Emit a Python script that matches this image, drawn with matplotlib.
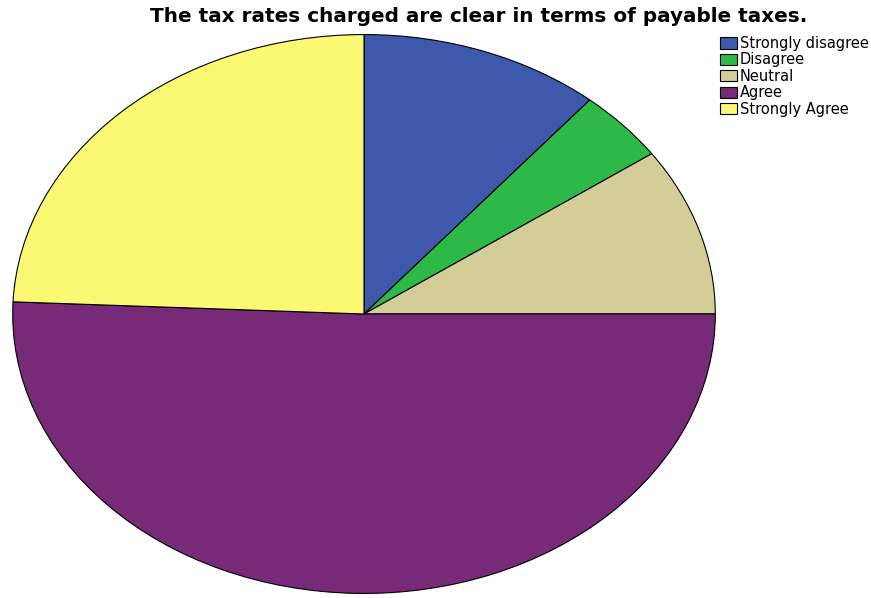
import matplotlib.pyplot as plt

labels = ['Strongly disagree', 'Disagree', 'Neutral', 'Agree', 'Strongly Agree']
counts = [16, 6, 14, 73, 35]
colors = ['#3E58AC', '#2EB848', '#D3CE97', '#772A78', '#FBF873']

plt.rcParams['font.family'] = ['DejaVu Sans']

fig = plt.figure(figsize=(8.71, 5.98), dpi=100)
ax = fig.add_axes([12 / 871, 4 / 598, 704 / 871, 560 / 598])

wedges, _ = ax.pie(counts, colors=colors, startangle=90, counterclock=False,
                   wedgeprops=dict(edgecolor='black', linewidth=0.8))
# stretch the pie into an ellipse like the SPSS output
ax.set_aspect('auto')
ax.set_xlim(-1.002, 1.002)
ax.set_ylim(-1.002, 1.002)

fig.text(479 / 871, 1 - 17 / 598, 'The tax rates charged are clear in terms of payable taxes.',
         ha='center', va='center', fontsize=14.4, fontweight='bold')

fig.legend(wedges, labels, loc='upper left', bbox_to_anchor=(720 / 871, 1 - 36 / 598),
           frameon=False, fontsize=10.5, handlelength=1.15, handleheight=0.8,
           handletextpad=0.2, labelspacing=0.1, borderpad=0, borderaxespad=0)

fig.savefig('out.png', dpi=100)
